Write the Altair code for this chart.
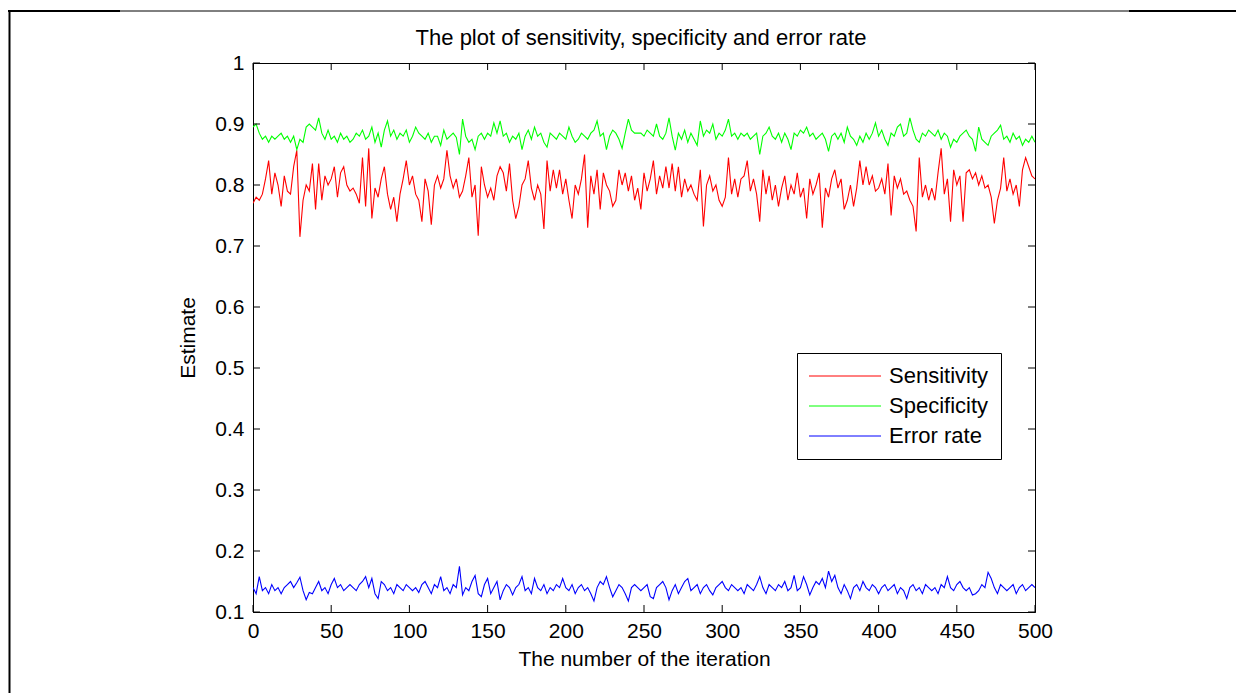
import altair as alt
import pandas as pd

# ---------------- data (every 2nd iteration) ----------------
iter_step = 2

sensitivity = [
    0.77, 0.78, 0.775, 0.785, 0.81, 0.84, 0.785, 0.82, 0.80, 0.765, 0.815, 0.79, 0.785, 0.83, 0.857, 0.715, 0.775, 0.80, 0.79, 0.835, 0.76, 0.835, 0.775, 0.815, 0.80,
    0.81, 0.83, 0.78, 0.82, 0.83, 0.80, 0.79, 0.795, 0.785, 0.77, 0.845, 0.765, 0.86, 0.745, 0.795, 0.78, 0.81, 0.83, 0.785, 0.76, 0.78, 0.74, 0.785, 0.81, 0.84,
    0.80, 0.815, 0.785, 0.775, 0.74, 0.81, 0.79, 0.735, 0.80, 0.815, 0.795, 0.81, 0.857, 0.815, 0.795, 0.81, 0.78, 0.79, 0.815, 0.845, 0.78, 0.80, 0.717, 0.83, 0.80,
    0.78, 0.795, 0.775, 0.815, 0.83, 0.82, 0.79, 0.835, 0.775, 0.745, 0.765, 0.80, 0.81, 0.84, 0.795, 0.775, 0.80, 0.785, 0.728, 0.84, 0.79, 0.825, 0.795, 0.825, 0.785,
    0.81, 0.775, 0.745, 0.80, 0.785, 0.81, 0.85, 0.73, 0.815, 0.785, 0.825, 0.76, 0.82, 0.80, 0.79, 0.765, 0.775, 0.825, 0.80, 0.82, 0.79, 0.815, 0.775, 0.795, 0.76,
    0.82, 0.79, 0.81, 0.84, 0.785, 0.815, 0.795, 0.83, 0.795, 0.835, 0.79, 0.83, 0.78, 0.81, 0.79, 0.80, 0.785, 0.775, 0.825, 0.732, 0.80, 0.815, 0.79, 0.80, 0.775,
    0.765, 0.78, 0.845, 0.785, 0.81, 0.78, 0.81, 0.815, 0.84, 0.79, 0.81, 0.785, 0.74, 0.825, 0.785, 0.815, 0.775, 0.80, 0.765, 0.795, 0.815, 0.775, 0.80, 0.785, 0.82,
    0.78, 0.795, 0.745, 0.81, 0.785, 0.80, 0.82, 0.73, 0.795, 0.78, 0.81, 0.825, 0.795, 0.81, 0.76, 0.775, 0.80, 0.765, 0.795, 0.84, 0.80, 0.83, 0.80, 0.815, 0.79,
    0.795, 0.81, 0.785, 0.835, 0.75, 0.815, 0.795, 0.81, 0.785, 0.79, 0.775, 0.765, 0.724, 0.845, 0.78, 0.80, 0.775, 0.795, 0.775, 0.82, 0.86, 0.785, 0.81, 0.74, 0.825,
    0.80, 0.815, 0.74, 0.82, 0.825, 0.81, 0.82, 0.80, 0.815, 0.795, 0.80, 0.78, 0.737, 0.775, 0.795, 0.845, 0.79, 0.81, 0.785, 0.80, 0.765, 0.825, 0.845, 0.83, 0.815,
    0.81,
]

specificity = [
    0.895, 0.90, 0.885, 0.875, 0.88, 0.87, 0.88, 0.875, 0.88, 0.885, 0.875, 0.88, 0.87, 0.88, 0.858, 0.875, 0.87, 0.895, 0.90, 0.895, 0.89, 0.91, 0.885, 0.875, 0.89,
    0.875, 0.88, 0.87, 0.885, 0.875, 0.88, 0.87, 0.875, 0.885, 0.88, 0.89, 0.875, 0.88, 0.895, 0.87, 0.885, 0.862, 0.89, 0.905, 0.88, 0.89, 0.875, 0.885, 0.88, 0.89,
    0.87, 0.88, 0.895, 0.885, 0.88, 0.875, 0.885, 0.87, 0.88, 0.88, 0.865, 0.89, 0.875, 0.88, 0.885, 0.878, 0.85, 0.908, 0.88, 0.87, 0.875, 0.858, 0.88, 0.885, 0.875,
    0.885, 0.88, 0.902, 0.885, 0.905, 0.88, 0.885, 0.87, 0.88, 0.875, 0.885, 0.858, 0.88, 0.89, 0.875, 0.895, 0.88, 0.885, 0.87, 0.862, 0.885, 0.88, 0.875, 0.885, 0.88,
    0.875, 0.895, 0.88, 0.87, 0.875, 0.885, 0.88, 0.875, 0.885, 0.89, 0.905, 0.88, 0.885, 0.858, 0.88, 0.89, 0.885, 0.875, 0.86, 0.885, 0.908, 0.89, 0.885, 0.885, 0.885,
    0.88, 0.89, 0.885, 0.88, 0.90, 0.88, 0.875, 0.885, 0.91, 0.88, 0.857, 0.885, 0.875, 0.89, 0.87, 0.885, 0.875, 0.865, 0.905, 0.88, 0.89, 0.885, 0.90, 0.875, 0.885,
    0.88, 0.89, 0.908, 0.88, 0.885, 0.875, 0.885, 0.88, 0.885, 0.875, 0.88, 0.885, 0.85, 0.88, 0.885, 0.895, 0.88, 0.875, 0.885, 0.87, 0.885, 0.875, 0.858, 0.885, 0.88,
    0.89, 0.885, 0.895, 0.88, 0.885, 0.875, 0.88, 0.885, 0.875, 0.855, 0.88, 0.885, 0.875, 0.885, 0.87, 0.895, 0.88, 0.875, 0.865, 0.88, 0.87, 0.885, 0.875, 0.885, 0.902,
    0.88, 0.89, 0.875, 0.865, 0.885, 0.88, 0.895, 0.90, 0.88, 0.885, 0.91, 0.89, 0.875, 0.87, 0.885, 0.88, 0.89, 0.885, 0.88, 0.89, 0.875, 0.885, 0.88, 0.862, 0.875,
    0.87, 0.88, 0.885, 0.89, 0.88, 0.875, 0.855, 0.895, 0.875, 0.87, 0.865, 0.88, 0.885, 0.89, 0.898, 0.875, 0.88, 0.87, 0.885, 0.875, 0.88, 0.865, 0.875, 0.87, 0.88,
    0.87,
]

error_rate = [
    0.14, 0.13, 0.158, 0.135, 0.14, 0.13, 0.145, 0.135, 0.14, 0.13, 0.14, 0.145, 0.15, 0.14, 0.148, 0.157, 0.135, 0.12, 0.132, 0.13, 0.14, 0.15, 0.135, 0.14, 0.13,
    0.145, 0.155, 0.14, 0.145, 0.135, 0.14, 0.145, 0.14, 0.135, 0.145, 0.15, 0.158, 0.14, 0.155, 0.13, 0.122, 0.15, 0.145, 0.135, 0.14, 0.13, 0.145, 0.14, 0.135, 0.145,
    0.14, 0.135, 0.14, 0.132, 0.145, 0.15, 0.14, 0.13, 0.145, 0.14, 0.158, 0.135, 0.14, 0.13, 0.145, 0.14, 0.175, 0.128, 0.14, 0.135, 0.15, 0.16, 0.13, 0.125, 0.145,
    0.155, 0.13, 0.14, 0.15, 0.12, 0.135, 0.145, 0.14, 0.128, 0.14, 0.145, 0.158, 0.135, 0.14, 0.13, 0.155, 0.14, 0.135, 0.145, 0.13, 0.14, 0.135, 0.145, 0.14, 0.155,
    0.14, 0.135, 0.145, 0.13, 0.14, 0.145, 0.135, 0.14, 0.13, 0.118, 0.14, 0.15, 0.145, 0.158, 0.14, 0.125, 0.135, 0.145, 0.14, 0.13, 0.118, 0.14, 0.145, 0.14, 0.135,
    0.14, 0.145, 0.125, 0.122, 0.14, 0.145, 0.15, 0.14, 0.12, 0.135, 0.145, 0.13, 0.14, 0.15, 0.155, 0.135, 0.14, 0.145, 0.13, 0.14, 0.145, 0.135, 0.128, 0.14, 0.145,
    0.15, 0.14, 0.135, 0.145, 0.14, 0.135, 0.14, 0.13, 0.145, 0.14, 0.135, 0.145, 0.158, 0.14, 0.13, 0.145, 0.14, 0.135, 0.145, 0.14, 0.15, 0.135, 0.14, 0.16, 0.135,
    0.14, 0.158, 0.145, 0.128, 0.14, 0.15, 0.145, 0.155, 0.14, 0.167, 0.15, 0.16, 0.14, 0.13, 0.145, 0.135, 0.122, 0.14, 0.145, 0.135, 0.15, 0.14, 0.135, 0.145, 0.14,
    0.13, 0.14, 0.145, 0.135, 0.14, 0.145, 0.13, 0.14, 0.135, 0.122, 0.14, 0.145, 0.135, 0.14, 0.13, 0.145, 0.14, 0.135, 0.14, 0.13, 0.145, 0.14, 0.158, 0.14, 0.135,
    0.145, 0.15, 0.14, 0.135, 0.14, 0.128, 0.13, 0.135, 0.145, 0.14, 0.165, 0.155, 0.14, 0.13, 0.145, 0.14, 0.135, 0.14, 0.145, 0.13, 0.14, 0.145, 0.135, 0.14, 0.145,
    0.14,
]

series_names = ["Sensitivity", "Specificity", "Error rate"]
series_colors = ["#ff0000", "#00ff00", "#0000ff"]
x_ticks = [0, 50, 100, 150, 200, 250, 300, 350, 400, 450, 500]
y_ticks = [0.1, 0.2, 0.3, 0.4, 0.5, 0.6, 0.7, 0.8, 0.9, 1.0]
title_text = "The plot of sensitivity, specificity and error rate"
x_title = "The number of the iteration"
y_title = "Estimate"

# ---------------- build table ----------------
rows = []
for name, vals in zip(series_names, [sensitivity, specificity, error_rate]):
    for k, v in enumerate(vals):
        rows.append({"iteration": k * iter_step, "value": v, "series": name, "order": k})
df = pd.DataFrame(rows)

xt = pd.DataFrame({"t": x_ticks})
yt = pd.DataFrame({"t": y_ticks})
one = pd.DataFrame({"k": [0]})

W, H = 782, 549
FONT = "Liberation Sans"
xscale = alt.Scale(domain=[0, 500], nice=False, zero=False)
yscale = alt.Scale(domain=[0.1, 1.0], nice=False, zero=False)

xaxis = alt.Axis(values=x_ticks, title=x_title,
                 grid=False, ticks=False, tickSize=0, labelPadding=8,
                 labelFlush=False, labelOverlap=False,
                 labelFontSize=21, titleFontSize=21, titleFontWeight="normal",
                 titleBaseline="alphabetic", titleY=53,
                 domainColor="black", labelColor="black", titleColor="black",
                 labelFont=FONT, titleFont=FONT)
yaxis = alt.Axis(values=y_ticks, format=".1~f", title=y_title,
                 grid=False, ticks=False, tickSize=0, labelPadding=9,
                 labelFlush=False, labelOverlap=False,
                 labelFontSize=21, titleFontSize=21, titleFontWeight="normal",
                 titleAngle=270, titleBaseline="alphabetic", titleX=-59,
                 domainColor="black", labelColor="black", titleColor="black",
                 labelFont=FONT, titleFont=FONT)

lines = alt.Chart(df).mark_line(strokeWidth=1.1, clip=True).encode(
    x=alt.X("iteration:Q", scale=xscale, axis=xaxis),
    y=alt.Y("value:Q", scale=yscale, axis=yaxis),
    color=alt.Color("series:N",
                    scale=alt.Scale(domain=series_names, range=series_colors),
                    legend=alt.Legend(title=None, orient="none", legendX=544, legendY=290,
                                      symbolType="M-8,0H8", symbolSize=81,
                                      symbolStrokeWidth=1, symbolOffset=25,
                                      labelOffset=33, labelFontSize=22, labelFont=FONT,
                                      labelColor="black", rowPadding=8, padding=12,
                                      strokeColor="black", fillColor="white")),
    detail="series:N",
    order="order:Q",
)

tick_len = 7
xt_bottom = alt.Chart(xt).mark_rule(color="black", strokeWidth=1).encode(
    x=alt.X("t:Q", scale=xscale, axis=xaxis), y=alt.value(H), y2=alt.value(H - tick_len))
xt_top = alt.Chart(xt).mark_rule(color="black", strokeWidth=1).encode(
    x=alt.X("t:Q", scale=xscale, axis=xaxis), y=alt.value(0), y2=alt.value(tick_len))
yt_left = alt.Chart(yt).mark_rule(color="black", strokeWidth=1).encode(
    y=alt.Y("t:Q", scale=yscale, axis=yaxis), x=alt.value(0), x2=alt.value(tick_len))
yt_right = alt.Chart(yt).mark_rule(color="black", strokeWidth=1).encode(
    y=alt.Y("t:Q", scale=yscale, axis=yaxis), x=alt.value(W), x2=alt.value(W - tick_len))

# chart title as a text mark (page frame below would push a regular title off the page)
title_mark = alt.Chart(one).mark_text(
    text=title_text, font=FONT, fontSize=22, color="black",
    align="center", baseline="alphabetic"
).encode(x=alt.value(W / 2 - 3), y=alt.value(-18))

# page frame (decoration around the figure)
frame_top = alt.Chart(one).mark_rule(color="black", strokeWidth=1).encode(
    x=alt.value(8 - 253), x2=alt.value(1236 - 253), y=alt.value(11 - 63))
frame_top_l = alt.Chart(one).mark_rule(color="black", strokeWidth=2).encode(
    x=alt.value(8 - 253), x2=alt.value(120 - 253), y=alt.value(11 - 63))
frame_top_r = alt.Chart(one).mark_rule(color="black", strokeWidth=2).encode(
    x=alt.value(1129 - 253), x2=alt.value(1236 - 253), y=alt.value(11 - 63))
frame_left = alt.Chart(one).mark_rule(color="black", strokeWidth=2).encode(
    x=alt.value(9.5 - 253), y=alt.value(10 - 63), y2=alt.value(693 - 63))

chart = alt.layer(
    lines, xt_bottom, xt_top, yt_left, yt_right, title_mark,
    frame_top, frame_top_l, frame_top_r, frame_left,
).properties(
    width=W, height=H,
    autosize=alt.AutoSizeParams(type="none"),
    padding={"left": 253, "top": 63, "right": 201, "bottom": 81},
).configure(
    background="white", font=FONT,
    view=alt.ViewConfig(stroke="black", strokeWidth=1),
)

chart.save("out.html", embed_options={"renderer": "svg", "actions": False})
